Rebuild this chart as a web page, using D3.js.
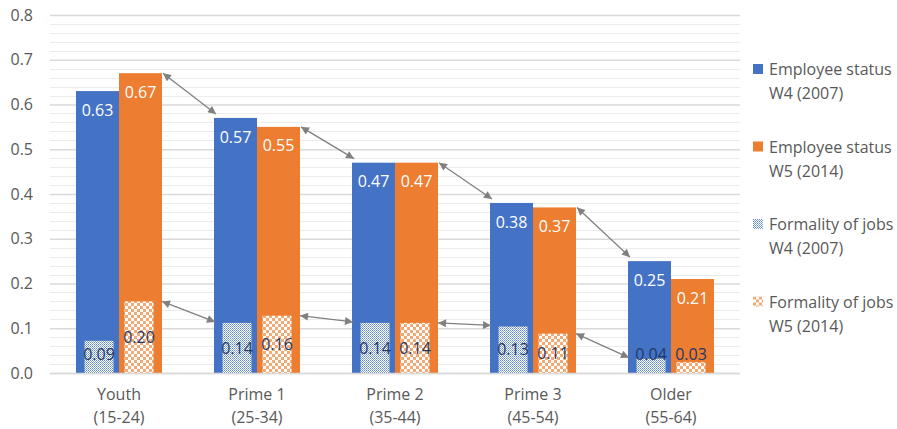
<!DOCTYPE html>
<html>
<head>
<meta charset="utf-8">
<script src="https://cdn.jsdelivr.net/npm/d3@7"></script>
<style>
  html, body { margin: 0; padding: 0; background: #fff; }
  svg { display: block; font-family: "Open Sans", "Noto Sans", sans-serif; }
</style>
</head>
<body>
<svg id="chart" width="897" height="429"></svg>
<script>
// Age groups (two-line category labels)
const categories = ["Youth", "Prime 1", "Prime 2", "Prime 3", "Older"];
const categoryRanges = ["(15-24)", "(25-34)", "(35-44)", "(45-54)", "(55-64)"];

// Share in employee status (primary axis)
const employeeW4 = [0.63, 0.57, 0.47, 0.38, 0.25];
const employeeW5 = [0.67, 0.55, 0.47, 0.37, 0.21];

// Formality of jobs (secondary axis, 0 to 1)
const formalW4 = [0.09, 0.14, 0.14, 0.13, 0.04];
const formalW5 = [0.20, 0.16, 0.14, 0.11, 0.03];

const yTicks = [0, 0.1, 0.2, 0.3, 0.4, 0.5, 0.6, 0.7, 0.8];
const legendLabels = [
  ["Employee status", "W4 (2007)"],
  ["Employee status", "W5 (2014)"],
  ["Formality of jobs", "W4 (2007)"],
  ["Formality of jobs", "W5 (2014)"]
];

const BLUE = "#4472C4", ORANGE = "#ED7D31";
const TEXT = "#595959", LABEL_DARK = "#1F3864", ARROW = "#808080";

const svg = d3.select("#chart");
const plot = { left: 50, right: 740, top: 15, bottom: 373 };

const x = d3.scaleBand().domain(categories).range([plot.left, plot.right]).padding(0);
const y = d3.scaleLinear().domain([0, 0.8]).range([plot.bottom, plot.top]);
const y2 = d3.scaleLinear().domain([0, 1.0]).range([plot.bottom, plot.top]);

const step = x.bandwidth();
const xMain = d3.scaleBand().domain(["w4", "w5"]).range([26, step - 26]).padding(0);
const xSec = d3.scaleBand().domain(["w4", "w5"]).range([34.5, step - 34.5]).paddingInner(0.275).paddingOuter(0);

// Fill patterns
const defs = svg.append("defs");
const pBlue = defs.append("pattern").attr("id", "patBlue")
  .attr("patternUnits", "userSpaceOnUse").attr("width", 2).attr("height", 2);
pBlue.append("rect").attr("width", 2).attr("height", 2).attr("fill", "#ffffff");
pBlue.append("rect").attr("width", 1).attr("height", 1).attr("fill", "#5b86d0");
pBlue.append("rect").attr("x", 1).attr("y", 1).attr("width", 1).attr("height", 1).attr("fill", "#8fabe0");

const pOrange = defs.append("pattern").attr("id", "patOrange")
  .attr("patternUnits", "userSpaceOnUse").attr("width", 6).attr("height", 6);
pOrange.append("rect").attr("width", 6).attr("height", 6).attr("fill", "#ffffff");
pOrange.append("rect").attr("width", 3).attr("height", 3).attr("fill", "#f4a873");
pOrange.append("rect").attr("x", 3).attr("y", 3).attr("width", 3).attr("height", 3).attr("fill", "#f4a873");

const arrowMarker = (id, orient) => {
  defs.append("marker").attr("id", id)
    .attr("viewBox", "0 0 10 10").attr("refX", 10).attr("refY", 5)
    .attr("markerWidth", 10).attr("markerHeight", 8)
    .attr("markerUnits", "userSpaceOnUse").attr("orient", orient)
    .append("path").attr("d", "M0,0L10,5L0,10Z").attr("fill", ARROW);
};
arrowMarker("arrowEnd", "auto");
arrowMarker("arrowStart", "auto-start-reverse");

// Gridlines: minor every 0.02, major every 0.1
const minor = d3.range(0, 0.801, 0.02).filter(v => Math.abs(Math.round(v * 10) - v * 10) > 1e-6);
svg.append("g").selectAll("line").data(minor).join("line")
  .attr("x1", plot.left).attr("x2", plot.right)
  .attr("y1", d => Math.round(y(d)) + 0.5).attr("y2", d => Math.round(y(d)) + 0.5)
  .attr("stroke", "#ececec").attr("stroke-width", 1);

const yAxis = svg.append("g").attr("transform", `translate(${plot.left},0)`)
  .call(d3.axisLeft(y).tickValues(yTicks).tickFormat(d3.format(".1f"))
    .tickSize(-(plot.right - plot.left)).tickPadding(17));
yAxis.select(".domain").remove();
yAxis.selectAll(".tick line").attr("stroke", "#d9d9d9").attr("stroke-width", 1.3);
yAxis.selectAll(".tick text").attr("fill", TEXT).attr("font-size", 16)
  .attr("font-family", "Open Sans, sans-serif");

// Employee status bars
const groups = svg.append("g").selectAll("g").data(categories).join("g")
  .attr("transform", d => `translate(${x(d)},0)`);

const esData = (i) => [{ key: "w4", v: employeeW4[i], c: BLUE }, { key: "w5", v: employeeW5[i], c: ORANGE }];
const fjData = (i) => [{ key: "w4", v: formalW4[i], f: "url(#patBlue)" }, { key: "w5", v: formalW5[i], f: "url(#patOrange)" }];

groups.each(function (cat, i) {
  const g = d3.select(this);
  g.selectAll("rect.es").data(esData(i)).join("rect").attr("class", "es")
    .attr("x", d => xMain(d.key)).attr("width", xMain.bandwidth())
    .attr("y", d => y(d.v)).attr("height", d => y(0) - y(d.v))
    .attr("fill", d => d.c);
  g.selectAll("rect.fj").data(fjData(i)).join("rect").attr("class", "fj")
    .attr("x", d => xSec(d.key)).attr("width", xSec.bandwidth())
    .attr("y", d => y2(d.v)).attr("height", d => y2(0) - y2(d.v))
    .attr("fill", d => d.f);
  g.selectAll("text.esl").data(esData(i)).join("text").attr("class", "esl")
    .attr("x", d => xMain(d.key) + xMain.bandwidth() / 2)
    .attr("y", d => y(d.v) + 19).attr("dy", "0.35em")
    .attr("text-anchor", "middle").attr("fill", "#fff").attr("font-size", 16)
    .text(d => d.v.toFixed(2));
  g.selectAll("text.fjl").data(fjData(i)).join("text").attr("class", "fjl")
    .attr("x", d => xSec(d.key) + xSec.bandwidth() / 2)
    .attr("y", d => Math.min((y2(d.v) + y2(0)) / 2, plot.bottom - 19)).attr("dy", "0.35em")
    .attr("text-anchor", "middle").attr("fill", LABEL_DARK).attr("font-size", 16)
    .text(d => d.v.toFixed(2));
});

// Baseline
svg.append("line").attr("x1", plot.left).attr("x2", plot.right)
  .attr("y1", plot.bottom + 0.5).attr("y2", plot.bottom + 0.5)
  .attr("stroke", "#d9d9d9").attr("stroke-width", 1.5);

// Double-headed arrows linking W5 of one group to W4 of the next
const arrows = svg.append("g");
for (let i = 0; i < categories.length - 1; i++) {
  const xs = x(categories[i]) + xMain("w5") + xMain.bandwidth() + 1;
  const xe = x(categories[i + 1]) + xMain("w4") + 2;
  arrows.append("line")
    .attr("x1", xs).attr("y1", y(employeeW5[i]))
    .attr("x2", xe).attr("y2", y(employeeW4[i + 1]) - 4);
  arrows.append("line")
    .attr("x1", xs - 1).attr("y1", y2(formalW5[i]))
    .attr("x2", xe - 1).attr("y2", y2(formalW4[i + 1]) - 1);
}
arrows.selectAll("line").attr("stroke", ARROW).attr("stroke-width", 1.3)
  .attr("marker-start", "url(#arrowStart)").attr("marker-end", "url(#arrowEnd)");

// Category labels
const xl = svg.append("g").selectAll("text").data(categories).join("text")
  .attr("x", d => x(d) + step / 2).attr("text-anchor", "middle")
  .attr("fill", TEXT).attr("font-size", 16);
xl.append("tspan").attr("x", d => x(d) + step / 2).attr("y", 400).text(d => d);
xl.append("tspan").attr("x", d => x(d) + step / 2).attr("y", 423).text((d, i) => categoryRanges[i]);

// Legend
const swatches = [BLUE, ORANGE, "url(#patBlue)", "url(#patOrange)"];
const leg = svg.append("g").selectAll("g").data(legendLabels).join("g")
  .attr("transform", (d, i) => `translate(753,${64 + i * 77.5})`);
leg.append("rect").attr("width", 10).attr("height", 10).attr("fill", (d, i) => swatches[i]);
leg.append("text").attr("x", 16).attr("y", 11).attr("fill", TEXT).attr("font-size", 16).text(d => d[0]);
leg.append("text").attr("x", 16).attr("y", 35).attr("fill", TEXT).attr("font-size", 16).text(d => d[1]);
</script>
</body>
</html>
